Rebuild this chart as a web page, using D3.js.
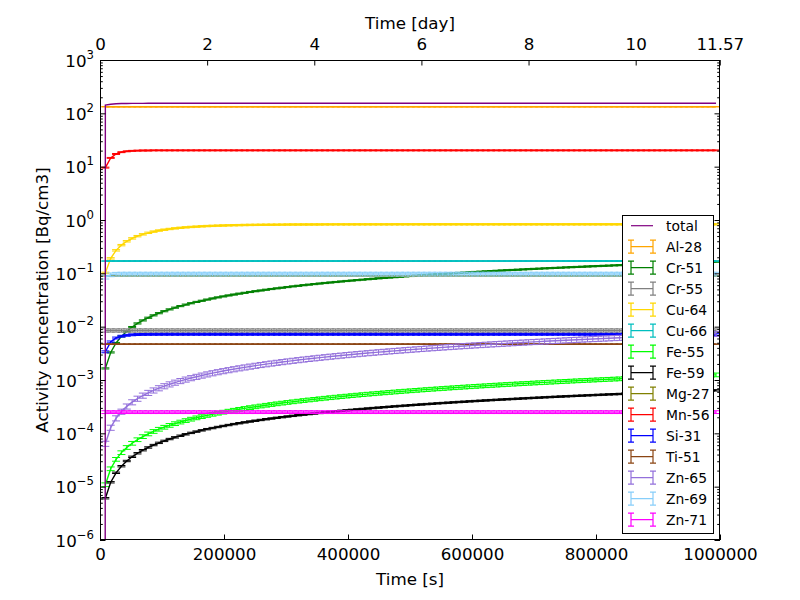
<!DOCTYPE html>
<html lang="en">
<head>
<meta charset="UTF-8">
<title>Activity concentration</title>
<script src="https://cdn.jsdelivr.net/npm/d3@7"></script>
<style>
  body { margin: 0; background: #fff; }
  svg { font-family: "DejaVu Sans", sans-serif; }
</style>
</head>
<body>
<svg width="800" height="600"></svg>
<script>
    // ---- data ----
    const nuclides = ["Al-28", "Cr-51", "Cr-55", "Cu-64", "Cu-66", "Fe-55", "Fe-59",
        "Mg-27", "Mn-56", "Si-31", "Ti-51", "Zn-65", "Zn-69", "Zn-71"];
    const colors = ["#ffa500", "#008000", "#808080", "#ffd700", "#00bfbf", "#00ff00", "#000000",
        "#808000", "#ff0000", "#0000ff", "#8b4513", "#9370db", "#87cefa", "#ff00ff"];
    // relative uncertainty of each nuclide (error bar half height / value)
    const relErr = [0.01, 0.025, 0.07, 0.03, 0.01, 0.08, 0.03, 0.01, 0.02, 0.04, 0.01, 0.11, 0.08, 0.06];

    // sample times [day], one every 0.1 day
    const timeDay = [
        0.1, 0.2, 0.3, 0.4, 0.5, 0.6, 0.7, 0.8, 0.9, 1.0,
        1.1, 1.2, 1.3, 1.4, 1.5, 1.6, 1.7, 1.8, 1.9, 2.0,
        2.1, 2.2, 2.3, 2.4, 2.5, 2.6, 2.7, 2.8, 2.9, 3.0,
        3.1, 3.2, 3.3, 3.4, 3.5, 3.6, 3.7, 3.8, 3.9, 4.0,
        4.1, 4.2, 4.3, 4.4, 4.5, 4.6, 4.7, 4.8, 4.9, 5.0,
        5.1, 5.2, 5.3, 5.4, 5.5, 5.6, 5.7, 5.8, 5.9, 6.0,
        6.1, 6.2, 6.3, 6.4, 6.5, 6.6, 6.7, 6.8, 6.9, 7.0,
        7.1, 7.2, 7.3, 7.4, 7.5, 7.6, 7.7, 7.8, 7.9, 8.0,
        8.1, 8.2, 8.3, 8.4, 8.5, 8.6, 8.7, 8.8, 8.9, 9.0,
        9.1, 9.2, 9.3, 9.4, 9.5, 9.6, 9.7, 9.8, 9.9, 10.0,
        10.1, 10.2, 10.3, 10.4, 10.5, 10.6, 10.7, 10.8, 10.9, 11.0,
        11.1, 11.2, 11.3, 11.4, 11.5];

    const al28 = [
        133, 133, 133, 133, 133, 133, 133, 133, 133, 133,
        133, 133, 133, 133, 133, 133, 133, 133, 133, 133,
        133, 133, 133, 133, 133, 133, 133, 133, 133, 133,
        133, 133, 133, 133, 133, 133, 133, 133, 133, 133,
        133, 133, 133, 133, 133, 133, 133, 133, 133, 133,
        133, 133, 133, 133, 133, 133, 133, 133, 133, 133,
        133, 133, 133, 133, 133, 133, 133, 133, 133, 133,
        133, 133, 133, 133, 133, 133, 133, 133, 133, 133,
        133, 133, 133, 133, 133, 133, 133, 133, 133, 133,
        133, 133, 133, 133, 133, 133, 133, 133, 133, 133,
        133, 133, 133, 133, 133, 133, 133, 133, 133, 133,
        133, 133, 133, 133, 133];
    const cr51 = [
        0.00165, 0.00329, 0.00494, 0.00657, 0.0082, 0.00983, 0.0115, 0.0131, 0.0147, 0.0163,
        0.0179, 0.0195, 0.0211, 0.0227, 0.0243, 0.0259, 0.0275, 0.0291, 0.0306, 0.0322,
        0.0338, 0.0354, 0.0369, 0.0385, 0.0400, 0.0416, 0.0431, 0.0447, 0.0462, 0.0477,
        0.0493, 0.0508, 0.0523, 0.0538, 0.0553, 0.0569, 0.0584, 0.0599, 0.0614, 0.0629,
        0.0644, 0.0659, 0.0673, 0.0688, 0.0703, 0.0718, 0.0732, 0.0747, 0.0761, 0.0776,
        0.0791, 0.0806, 0.0820, 0.0834, 0.0848, 0.0863, 0.0877, 0.0892, 0.0906, 0.0920,
        0.0934, 0.0948, 0.0962, 0.0976, 0.0990, 0.1004, 0.1018, 0.1032, 0.1046, 0.1060,
        0.1074, 0.1088, 0.1102, 0.1116, 0.1129, 0.1143, 0.1156, 0.1170, 0.1184, 0.1198,
        0.1211, 0.1225, 0.1238, 0.1251, 0.1264, 0.1278, 0.1291, 0.1304, 0.1317, 0.1331,
        0.1344, 0.1357, 0.1370, 0.1383, 0.1396, 0.1409, 0.1422, 0.1435, 0.1448, 0.1461,
        0.1474, 0.1487, 0.1499, 0.1512, 0.1525, 0.1538, 0.1550, 0.1563, 0.1575, 0.1588,
        0.1600, 0.1613, 0.1625, 0.1638, 0.1650];
    const cr55 = [
        0.0085, 0.0085, 0.0085, 0.0085, 0.0085, 0.0085, 0.0085, 0.0085, 0.0085, 0.0085,
        0.0085, 0.0085, 0.0085, 0.0085, 0.0085, 0.0085, 0.0085, 0.0085, 0.0085, 0.0085,
        0.0085, 0.0085, 0.0085, 0.0085, 0.0085, 0.0085, 0.0085, 0.0085, 0.0085, 0.0085,
        0.0085, 0.0085, 0.0085, 0.0085, 0.0085, 0.0085, 0.0085, 0.0085, 0.0085, 0.0085,
        0.0085, 0.0085, 0.0085, 0.0085, 0.0085, 0.0085, 0.0085, 0.0085, 0.0085, 0.0085,
        0.0085, 0.0085, 0.0085, 0.0085, 0.0085, 0.0085, 0.0085, 0.0085, 0.0085, 0.0085,
        0.0085, 0.0085, 0.0085, 0.0085, 0.0085, 0.0085, 0.0085, 0.0085, 0.0085, 0.0085,
        0.0085, 0.0085, 0.0085, 0.0085, 0.0085, 0.0085, 0.0085, 0.0085, 0.0085, 0.0085,
        0.0085, 0.0085, 0.0085, 0.0085, 0.0085, 0.0085, 0.0085, 0.0085, 0.0085, 0.0085,
        0.0085, 0.0085, 0.0085, 0.0085, 0.0085, 0.0085, 0.0085, 0.0085, 0.0085, 0.0085,
        0.0085, 0.0085, 0.0085, 0.0085, 0.0085, 0.0085, 0.0085, 0.0085, 0.0085, 0.0085,
        0.0085, 0.0085, 0.0085, 0.0085, 0.0085];
    const cu64 = [
        0.102, 0.191, 0.270, 0.338, 0.399, 0.452, 0.498, 0.539, 0.575, 0.606,
        0.634, 0.658, 0.679, 0.697, 0.714, 0.728, 0.741, 0.751, 0.761, 0.770,
        0.777, 0.784, 0.789, 0.794, 0.799, 0.802, 0.806, 0.809, 0.811, 0.814,
        0.816, 0.817, 0.819, 0.820, 0.822, 0.823, 0.824, 0.825, 0.825, 0.826,
        0.826, 0.827, 0.827, 0.828, 0.828, 0.828, 0.828, 0.829, 0.829, 0.829,
        0.829, 0.829, 0.829, 0.829, 0.830, 0.830, 0.830, 0.830, 0.830, 0.830,
        0.830, 0.830, 0.830, 0.830, 0.830, 0.830, 0.830, 0.830, 0.830, 0.830,
        0.830, 0.830, 0.830, 0.830, 0.830, 0.830, 0.830, 0.830, 0.830, 0.830,
        0.830, 0.830, 0.830, 0.830, 0.830, 0.830, 0.830, 0.830, 0.830, 0.830,
        0.830, 0.830, 0.830, 0.830, 0.830, 0.830, 0.830, 0.830, 0.830, 0.830,
        0.830, 0.830, 0.830, 0.830, 0.830, 0.830, 0.830, 0.830, 0.830, 0.830,
        0.830, 0.830, 0.830, 0.830, 0.830];
    const cu66 = [
        0.17, 0.17, 0.17, 0.17, 0.17, 0.17, 0.17, 0.17, 0.17, 0.17,
        0.17, 0.17, 0.17, 0.17, 0.17, 0.17, 0.17, 0.17, 0.17, 0.17,
        0.17, 0.17, 0.17, 0.17, 0.17, 0.17, 0.17, 0.17, 0.17, 0.17,
        0.17, 0.17, 0.17, 0.17, 0.17, 0.17, 0.17, 0.17, 0.17, 0.17,
        0.17, 0.17, 0.17, 0.17, 0.17, 0.17, 0.17, 0.17, 0.17, 0.17,
        0.17, 0.17, 0.17, 0.17, 0.17, 0.17, 0.17, 0.17, 0.17, 0.17,
        0.17, 0.17, 0.17, 0.17, 0.17, 0.17, 0.17, 0.17, 0.17, 0.17,
        0.17, 0.17, 0.17, 0.17, 0.17, 0.17, 0.17, 0.17, 0.17, 0.17,
        0.17, 0.17, 0.17, 0.17, 0.17, 0.17, 0.17, 0.17, 0.17, 0.17,
        0.17, 0.17, 0.17, 0.17, 0.17, 0.17, 0.17, 0.17, 0.17, 0.17,
        0.17, 0.17, 0.17, 0.17, 0.17, 0.17, 0.17, 0.17, 0.17, 0.17,
        0.17, 0.17, 0.17, 0.17, 0.17];
    const fe55 = [
        1.09e-5, 2.17e-5, 3.26e-5, 4.35e-5, 5.44e-5, 6.52e-5, 7.61e-5, 8.70e-5, 9.78e-5, 1.087e-4,
        1.196e-4, 1.304e-4, 1.413e-4, 1.522e-4, 1.631e-4, 1.739e-4, 1.848e-4, 1.957e-4, 2.065e-4, 2.174e-4,
        2.283e-4, 2.391e-4, 2.500e-4, 2.609e-4, 2.718e-4, 2.826e-4, 2.935e-4, 3.044e-4, 3.152e-4, 3.261e-4,
        3.370e-4, 3.478e-4, 3.587e-4, 3.696e-4, 3.805e-4, 3.913e-4, 4.022e-4, 4.131e-4, 4.239e-4, 4.348e-4,
        4.457e-4, 4.565e-4, 4.674e-4, 4.783e-4, 4.892e-4, 5.000e-4, 5.109e-4, 5.218e-4, 5.326e-4, 5.435e-4,
        5.544e-4, 5.652e-4, 5.761e-4, 5.870e-4, 5.979e-4, 6.087e-4, 6.196e-4, 6.305e-4, 6.413e-4, 6.522e-4,
        6.631e-4, 6.739e-4, 6.848e-4, 6.957e-4, 7.066e-4, 7.174e-4, 7.283e-4, 7.392e-4, 7.500e-4, 7.609e-4,
        7.718e-4, 7.826e-4, 7.935e-4, 8.044e-4, 8.153e-4, 8.261e-4, 8.370e-4, 8.479e-4, 8.587e-4, 8.696e-4,
        8.805e-4, 8.913e-4, 9.022e-4, 9.131e-4, 9.240e-4, 9.348e-4, 9.457e-4, 9.566e-4, 9.674e-4, 9.783e-4,
        9.892e-4, 1.000e-3, 1.011e-3, 1.022e-3, 1.033e-3, 1.044e-3, 1.054e-3, 1.065e-3, 1.076e-3, 1.087e-3,
        1.098e-3, 1.109e-3, 1.120e-3, 1.131e-3, 1.141e-3, 1.152e-3, 1.163e-3, 1.174e-3, 1.185e-3, 1.196e-3,
        1.207e-3, 1.217e-3, 1.228e-3, 1.239e-3, 1.250e-3];
    const fe59 = [
        6.07e-6, 1.21e-5, 1.82e-5, 2.42e-5, 3.03e-5, 3.63e-5, 4.23e-5, 4.83e-5, 5.43e-5, 6.03e-5,
        6.63e-5, 7.22e-5, 7.82e-5, 8.41e-5, 9.01e-5, 9.60e-5, 1.019e-4, 1.078e-4, 1.138e-4, 1.197e-4,
        1.255e-4, 1.314e-4, 1.373e-4, 1.431e-4, 1.490e-4, 1.548e-4, 1.607e-4, 1.665e-4, 1.723e-4, 1.781e-4,
        1.839e-4, 1.897e-4, 1.954e-4, 2.012e-4, 2.070e-4, 2.127e-4, 2.185e-4, 2.242e-4, 2.299e-4, 2.356e-4,
        2.413e-4, 2.470e-4, 2.527e-4, 2.584e-4, 2.641e-4, 2.698e-4, 2.754e-4, 2.811e-4, 2.867e-4, 2.923e-4,
        2.979e-4, 3.035e-4, 3.091e-4, 3.147e-4, 3.203e-4, 3.259e-4, 3.314e-4, 3.370e-4, 3.425e-4, 3.481e-4,
        3.536e-4, 3.591e-4, 3.646e-4, 3.701e-4, 3.756e-4, 3.811e-4, 3.866e-4, 3.921e-4, 3.975e-4, 4.030e-4,
        4.084e-4, 4.139e-4, 4.193e-4, 4.247e-4, 4.301e-4, 4.355e-4, 4.409e-4, 4.463e-4, 4.517e-4, 4.571e-4,
        4.624e-4, 4.678e-4, 4.731e-4, 4.785e-4, 4.838e-4, 4.891e-4, 4.944e-4, 4.997e-4, 5.050e-4, 5.103e-4,
        5.155e-4, 5.208e-4, 5.260e-4, 5.313e-4, 5.366e-4, 5.418e-4, 5.470e-4, 5.522e-4, 5.574e-4, 5.626e-4,
        5.678e-4, 5.730e-4, 5.782e-4, 5.834e-4, 5.885e-4, 5.937e-4, 5.988e-4, 6.040e-4, 6.091e-4, 6.143e-4,
        6.194e-4, 6.245e-4, 6.295e-4, 6.346e-4, 6.397e-4];
    const mg27 = [
        0.09, 0.09, 0.09, 0.09, 0.09, 0.09, 0.09, 0.09, 0.09, 0.09,
        0.09, 0.09, 0.09, 0.09, 0.09, 0.09, 0.09, 0.09, 0.09, 0.09,
        0.09, 0.09, 0.09, 0.09, 0.09, 0.09, 0.09, 0.09, 0.09, 0.09,
        0.09, 0.09, 0.09, 0.09, 0.09, 0.09, 0.09, 0.09, 0.09, 0.09,
        0.09, 0.09, 0.09, 0.09, 0.09, 0.09, 0.09, 0.09, 0.09, 0.09,
        0.09, 0.09, 0.09, 0.09, 0.09, 0.09, 0.09, 0.09, 0.09, 0.09,
        0.09, 0.09, 0.09, 0.09, 0.09, 0.09, 0.09, 0.09, 0.09, 0.09,
        0.09, 0.09, 0.09, 0.09, 0.09, 0.09, 0.09, 0.09, 0.09, 0.09,
        0.09, 0.09, 0.09, 0.09, 0.09, 0.09, 0.09, 0.09, 0.09, 0.09,
        0.09, 0.09, 0.09, 0.09, 0.09, 0.09, 0.09, 0.09, 0.09, 0.09,
        0.09, 0.09, 0.09, 0.09, 0.09, 0.09, 0.09, 0.09, 0.09, 0.09,
        0.09, 0.09, 0.09, 0.09, 0.09];
    const mn56 = [
        9.60, 14.6, 17.3, 18.7, 19.4, 19.8, 20.0, 20.1, 20.1, 20.2,
        20.2, 20.2, 20.2, 20.2, 20.2, 20.2, 20.2, 20.2, 20.2, 20.2,
        20.2, 20.2, 20.2, 20.2, 20.2, 20.2, 20.2, 20.2, 20.2, 20.2,
        20.2, 20.2, 20.2, 20.2, 20.2, 20.2, 20.2, 20.2, 20.2, 20.2,
        20.2, 20.2, 20.2, 20.2, 20.2, 20.2, 20.2, 20.2, 20.2, 20.2,
        20.2, 20.2, 20.2, 20.2, 20.2, 20.2, 20.2, 20.2, 20.2, 20.2,
        20.2, 20.2, 20.2, 20.2, 20.2, 20.2, 20.2, 20.2, 20.2, 20.2,
        20.2, 20.2, 20.2, 20.2, 20.2, 20.2, 20.2, 20.2, 20.2, 20.2,
        20.2, 20.2, 20.2, 20.2, 20.2, 20.2, 20.2, 20.2, 20.2, 20.2,
        20.2, 20.2, 20.2, 20.2, 20.2, 20.2, 20.2, 20.2, 20.2, 20.2,
        20.2, 20.2, 20.2, 20.2, 20.2, 20.2, 20.2, 20.2, 20.2, 20.2,
        20.2, 20.2, 20.2, 20.2, 20.2];
    const si31 = [
        0.00338, 0.00518, 0.00613, 0.00663, 0.0069, 0.00704, 0.00712, 0.00716, 0.00718, 0.00719,
        0.00719, 0.0072, 0.0072, 0.0072, 0.0072, 0.0072, 0.0072, 0.0072, 0.0072, 0.0072,
        0.0072, 0.0072, 0.0072, 0.0072, 0.0072, 0.0072, 0.0072, 0.0072, 0.0072, 0.0072,
        0.0072, 0.0072, 0.0072, 0.0072, 0.0072, 0.0072, 0.0072, 0.0072, 0.0072, 0.0072,
        0.0072, 0.0072, 0.0072, 0.0072, 0.0072, 0.0072, 0.0072, 0.0072, 0.0072, 0.0072,
        0.0072, 0.0072, 0.0072, 0.0072, 0.0072, 0.0072, 0.0072, 0.0072, 0.0072, 0.0072,
        0.0072, 0.0072, 0.0072, 0.0072, 0.0072, 0.0072, 0.0072, 0.0072, 0.0072, 0.0072,
        0.0072, 0.0072, 0.0072, 0.0072, 0.0072, 0.0072, 0.0072, 0.0072, 0.0072, 0.0072,
        0.0072, 0.0072, 0.0072, 0.0072, 0.0072, 0.0072, 0.0072, 0.0072, 0.0072, 0.0072,
        0.0072, 0.0072, 0.0072, 0.0072, 0.0072, 0.0072, 0.0072, 0.0072, 0.0072, 0.0072,
        0.0072, 0.0072, 0.0072, 0.0072, 0.0072, 0.0072, 0.0072, 0.0072, 0.0072, 0.0072,
        0.0072, 0.0072, 0.0072, 0.0072, 0.0072];
    const ti51 = [
        0.0047, 0.0047, 0.0047, 0.0047, 0.0047, 0.0047, 0.0047, 0.0047, 0.0047, 0.0047,
        0.0047, 0.0047, 0.0047, 0.0047, 0.0047, 0.0047, 0.0047, 0.0047, 0.0047, 0.0047,
        0.0047, 0.0047, 0.0047, 0.0047, 0.0047, 0.0047, 0.0047, 0.0047, 0.0047, 0.0047,
        0.0047, 0.0047, 0.0047, 0.0047, 0.0047, 0.0047, 0.0047, 0.0047, 0.0047, 0.0047,
        0.0047, 0.0047, 0.0047, 0.0047, 0.0047, 0.0047, 0.0047, 0.0047, 0.0047, 0.0047,
        0.0047, 0.0047, 0.0047, 0.0047, 0.0047, 0.0047, 0.0047, 0.0047, 0.0047, 0.0047,
        0.0047, 0.0047, 0.0047, 0.0047, 0.0047, 0.0047, 0.0047, 0.0047, 0.0047, 0.0047,
        0.0047, 0.0047, 0.0047, 0.0047, 0.0047, 0.0047, 0.0047, 0.0047, 0.0047, 0.0047,
        0.0047, 0.0047, 0.0047, 0.0047, 0.0047, 0.0047, 0.0047, 0.0047, 0.0047, 0.0047,
        0.0047, 0.0047, 0.0047, 0.0047, 0.0047, 0.0047, 0.0047, 0.0047, 0.0047, 0.0047,
        0.0047, 0.0047, 0.0047, 0.0047, 0.0047, 0.0047, 0.0047, 0.0047, 0.0047, 0.0047,
        0.0047, 0.0047, 0.0047, 0.0047, 0.0047];
    const zn65 = [
        6.4e-5, 1.28e-4, 1.92e-4, 2.56e-4, 3.20e-4, 3.84e-4, 4.48e-4, 5.12e-4, 5.76e-4, 6.40e-4,
        7.04e-4, 7.68e-4, 8.32e-4, 8.96e-4, 9.60e-4, 1.024e-3, 1.088e-3, 1.152e-3, 1.216e-3, 1.280e-3,
        1.344e-3, 1.408e-3, 1.472e-3, 1.536e-3, 1.600e-3, 1.664e-3, 1.728e-3, 1.792e-3, 1.856e-3, 1.920e-3,
        1.984e-3, 2.048e-3, 2.112e-3, 2.176e-3, 2.240e-3, 2.304e-3, 2.368e-3, 2.432e-3, 2.496e-3, 2.560e-3,
        2.624e-3, 2.688e-3, 2.752e-3, 2.816e-3, 2.880e-3, 2.944e-3, 3.008e-3, 3.072e-3, 3.136e-3, 3.200e-3,
        3.264e-3, 3.328e-3, 3.392e-3, 3.456e-3, 3.520e-3, 3.584e-3, 3.648e-3, 3.712e-3, 3.776e-3, 3.840e-3,
        3.904e-3, 3.968e-3, 4.032e-3, 4.096e-3, 4.160e-3, 4.224e-3, 4.288e-3, 4.352e-3, 4.416e-3, 4.480e-3,
        4.544e-3, 4.608e-3, 4.672e-3, 4.736e-3, 4.800e-3, 4.864e-3, 4.928e-3, 4.992e-3, 5.056e-3, 5.120e-3,
        5.184e-3, 5.248e-3, 5.312e-3, 5.376e-3, 5.440e-3, 5.504e-3, 5.568e-3, 5.632e-3, 5.696e-3, 5.760e-3,
        5.824e-3, 5.888e-3, 5.952e-3, 6.016e-3, 6.080e-3, 6.144e-3, 6.208e-3, 6.272e-3, 6.336e-3, 6.400e-3,
        6.464e-3, 6.528e-3, 6.592e-3, 6.656e-3, 6.720e-3, 6.784e-3, 6.848e-3, 6.912e-3, 6.976e-3, 7.040e-3,
        7.104e-3, 7.168e-3, 7.232e-3, 7.296e-3, 7.360e-3];
    const zn69 = [
        0.085, 0.094, 0.0965, 0.097, 0.097, 0.097, 0.097, 0.097, 0.097, 0.097,
        0.097, 0.097, 0.097, 0.097, 0.097, 0.097, 0.097, 0.097, 0.097, 0.097,
        0.097, 0.097, 0.097, 0.097, 0.097, 0.097, 0.097, 0.097, 0.097, 0.097,
        0.097, 0.097, 0.097, 0.097, 0.097, 0.097, 0.097, 0.097, 0.097, 0.097,
        0.097, 0.097, 0.097, 0.097, 0.097, 0.097, 0.097, 0.097, 0.097, 0.097,
        0.097, 0.097, 0.097, 0.097, 0.097, 0.097, 0.097, 0.097, 0.097, 0.097,
        0.097, 0.097, 0.097, 0.097, 0.097, 0.097, 0.097, 0.097, 0.097, 0.097,
        0.097, 0.097, 0.097, 0.097, 0.097, 0.097, 0.097, 0.097, 0.097, 0.097,
        0.097, 0.097, 0.097, 0.097, 0.097, 0.097, 0.097, 0.097, 0.097, 0.097,
        0.097, 0.097, 0.097, 0.097, 0.097, 0.097, 0.097, 0.097, 0.097, 0.097,
        0.097, 0.097, 0.097, 0.097, 0.097, 0.097, 0.097, 0.097, 0.097, 0.097,
        0.097, 0.097, 0.097, 0.097, 0.097];
    const zn71 = [
        2.5e-4, 2.5e-4, 2.5e-4, 2.5e-4, 2.5e-4, 2.5e-4, 2.5e-4, 2.5e-4, 2.5e-4, 2.5e-4,
        2.5e-4, 2.5e-4, 2.5e-4, 2.5e-4, 2.5e-4, 2.5e-4, 2.5e-4, 2.5e-4, 2.5e-4, 2.5e-4,
        2.5e-4, 2.5e-4, 2.5e-4, 2.5e-4, 2.5e-4, 2.5e-4, 2.5e-4, 2.5e-4, 2.5e-4, 2.5e-4,
        2.5e-4, 2.5e-4, 2.5e-4, 2.5e-4, 2.5e-4, 2.5e-4, 2.5e-4, 2.5e-4, 2.5e-4, 2.5e-4,
        2.5e-4, 2.5e-4, 2.5e-4, 2.5e-4, 2.5e-4, 2.5e-4, 2.5e-4, 2.5e-4, 2.5e-4, 2.5e-4,
        2.5e-4, 2.5e-4, 2.5e-4, 2.5e-4, 2.5e-4, 2.5e-4, 2.5e-4, 2.5e-4, 2.5e-4, 2.5e-4,
        2.5e-4, 2.5e-4, 2.5e-4, 2.5e-4, 2.5e-4, 2.5e-4, 2.5e-4, 2.5e-4, 2.5e-4, 2.5e-4,
        2.5e-4, 2.5e-4, 2.5e-4, 2.5e-4, 2.5e-4, 2.5e-4, 2.5e-4, 2.5e-4, 2.5e-4, 2.5e-4,
        2.5e-4, 2.5e-4, 2.5e-4, 2.5e-4, 2.5e-4, 2.5e-4, 2.5e-4, 2.5e-4, 2.5e-4, 2.5e-4,
        2.5e-4, 2.5e-4, 2.5e-4, 2.5e-4, 2.5e-4, 2.5e-4, 2.5e-4, 2.5e-4, 2.5e-4, 2.5e-4,
        2.5e-4, 2.5e-4, 2.5e-4, 2.5e-4, 2.5e-4, 2.5e-4, 2.5e-4, 2.5e-4, 2.5e-4, 2.5e-4,
        2.5e-4, 2.5e-4, 2.5e-4, 2.5e-4, 2.5e-4];

    // total starts with an empty sample at t = 0
    const totalTimeDay = [0].concat(timeDay);
    const total = [0,
        143.1, 148.2, 151.0, 152.4, 153.2, 153.6, 153.9, 154.0, 154.1, 154.2,
        154.2, 154.3, 154.3, 154.3, 154.3, 154.3, 154.3, 154.4, 154.4, 154.4,
        154.4, 154.4, 154.4, 154.4, 154.4, 154.4, 154.4, 154.4, 154.4, 154.4,
        154.4, 154.4, 154.4, 154.4, 154.4, 154.5, 154.5, 154.5, 154.5, 154.5,
        154.5, 154.5, 154.5, 154.5, 154.5, 154.5, 154.5, 154.5, 154.5, 154.5,
        154.5, 154.5, 154.5, 154.5, 154.5, 154.5, 154.5, 154.5, 154.5, 154.5,
        154.5, 154.5, 154.5, 154.5, 154.5, 154.5, 154.5, 154.5, 154.5, 154.5,
        154.6, 154.6, 154.6, 154.6, 154.6, 154.6, 154.6, 154.6, 154.6, 154.6,
        154.6, 154.6, 154.6, 154.6, 154.6, 154.6, 154.6, 154.6, 154.6, 154.6,
        154.6, 154.6, 154.6, 154.6, 154.6, 154.6, 154.6, 154.6, 154.6, 154.6,
        154.6, 154.6, 154.6, 154.6, 154.6, 154.6, 154.6, 154.6, 154.6, 154.6,
        154.6, 154.6, 154.6, 154.6, 154.6];

    const series = [al28, cr51, cr55, cu64, cu66, fe55, fe59, mg27, mn56, si31, ti51, zn65, zn69, zn71];

    const secTicks = [0, 200000, 400000, 600000, 800000, 1000000];
    const dayTicks = [0, 2, 4, 6, 8, 10, 11.57];
    const decades = [-6, -5, -4, -3, -2, -1, 0, 1, 2, 3];

    // ---- layout ----
    const pL = 100, pR = 720, pT = 60, pB = 540;
    const fontTick = 16.7, fontLegend = 13.9;

    const x = d3.scaleLinear().domain([0, 1e6]).range([pL, pR]);
    const xDay = d3.scaleLinear().domain([0, 1e6 / 86400]).range([pL, pR]);
    const y = d3.scaleLog().domain([1e-6, 1e3]).range([pB, pT]);

    const svg = d3.select("svg");
    svg.append("rect").attr("width", 800).attr("height", 600).attr("fill", "#fff");

    svg.append("defs").append("clipPath").attr("id", "clip")
        .append("rect").attr("x", pL).attr("y", pT)
        .attr("width", pR - pL).attr("height", pB - pT);

    const plot = svg.append("g").attr("clip-path", "url(#clip)");

    // log axis clips non-positive values, like matplotlib does
    const line = d3.line()
        .x(d => x(d[0]))
        .y(d => y(Math.max(d[1], 1e-300)));

    nuclides.forEach((name, i) => {
        const pts = timeDay.map((d, j) => [d * 86400, series[i][j]]);
        const e = relErr[i];
        const g = plot.append("g").attr("stroke", colors[i]).attr("fill", "none");
        g.append("path").attr("d", line(pts)).attr("stroke-width", 1.4);
        g.selectAll("path.bar")
            .data(pts)
            .join("path")
            .attr("class", "bar")
            .attr("stroke-width", 1)
            .attr("d", d => {
                const px = x(d[0]), y0 = y(d[1] * (1 - e)), y1 = y(d[1] * (1 + e));
                return `M${px},${y0}V${y1}M${px - 4},${y0}h8M${px - 4},${y1}h8`;
            });
    });

    plot.append("path")
        .attr("d", line(totalTimeDay.map((d, j) => [d * 86400, total[j]])))
        .attr("fill", "none")
        .attr("stroke", "#800080")
        .attr("stroke-width", 1.4);

    // ---- axes ----
    function styleAxis(g) {
        g.select(".domain").remove();
        g.selectAll(".tick line").attr("stroke", "#000");
        g.selectAll("text").attr("font-size", fontTick).attr("font-family", "DejaVu Sans").attr("fill", "#000");
    }

    svg.append("g")
        .attr("transform", `translate(0,${pB})`)
        .call(d3.axisBottom(x).tickValues(secTicks).tickSizeInner(-5.5).tickSizeOuter(0)
            .tickPadding(8).tickFormat(d => String(d)))
        .call(styleAxis);

    svg.append("g")
        .attr("transform", `translate(0,${pT})`)
        .call(d3.axisTop(xDay).tickValues(dayTicks).tickSizeInner(-5.5).tickSizeOuter(0)
            .tickPadding(10).tickFormat(d => String(d)))
        .call(styleAxis);

    const majors = decades.map(k => Math.pow(10, k));
    const minors = y.ticks().filter(v => Math.abs(Math.log10(v) - Math.round(Math.log10(v))) > 1e-6);

    const leftAxis = svg.append("g")
        .attr("transform", `translate(${pL},0)`)
        .call(d3.axisLeft(y).tickValues(majors).tickSizeInner(-5.5).tickSizeOuter(0).tickFormat(""))
        .call(styleAxis);
    svg.append("g")
        .attr("transform", `translate(${pL},0)`)
        .call(d3.axisLeft(y).tickValues(minors).tickSizeInner(-2.8).tickSizeOuter(0).tickFormat(""))
        .call(styleAxis);
    svg.append("g")
        .attr("transform", `translate(${pR},0)`)
        .call(d3.axisRight(y).tickValues(majors).tickSizeInner(-5.5).tickSizeOuter(0).tickFormat(""))
        .call(styleAxis);
    svg.append("g")
        .attr("transform", `translate(${pR},0)`)
        .call(d3.axisRight(y).tickValues(minors).tickSizeInner(-2.8).tickSizeOuter(0).tickFormat(""))
        .call(styleAxis);

    // 10^k labels
    leftAxis.selectAll(".tick").each(function (d, i) {
        const t = d3.select(this).append("text")
            .attr("x", -6)
            .attr("y", 6)
            .attr("text-anchor", "end")
            .attr("fill", "#000")
            .attr("font-size", fontTick)
            .attr("font-family", "DejaVu Sans");
        t.append("tspan").text("10");
        t.append("tspan").attr("dy", -8).attr("font-size", 11.7)
            .text(String(decades[i]).replace("-", "\u2212"));
    });

    // frame
    svg.append("rect")
        .attr("x", pL + 0.5).attr("y", pT + 0.5)
        .attr("width", pR - pL - 1).attr("height", pB - pT - 1)
        .attr("fill", "none").attr("stroke", "#000").attr("stroke-width", 1);

    // axis titles
    svg.append("text")
        .attr("x", (pL + pR) / 2).attr("y", 585)
        .attr("text-anchor", "middle").attr("font-size", fontTick)
        .text("Time [s]");
    svg.append("text")
        .attr("x", (pL + pR) / 2).attr("y", 29)
        .attr("text-anchor", "middle").attr("font-size", fontTick)
        .text("Time [day]");
    svg.append("text")
        .attr("transform", `translate(48,${(pT + pB) / 2}) rotate(-90)`)
        .attr("text-anchor", "middle").attr("font-size", fontTick)
        .text("Activity concentration [Bq/cm3]");

    // ---- legend ----
    const legendNames = ["total"].concat(nuclides);
    const legendColors = ["#800080"].concat(colors);
    const legend = svg.append("g").attr("transform", "translate(622,215)");
    legend.append("rect")
        .attr("x", 0.5).attr("y", 0.5).attr("width", 91).attr("height", 318)
        .attr("fill", "#fff").attr("stroke", "#000").attr("stroke-width", 1);

    const item = legend.selectAll("g.item")
        .data(legendNames)
        .join("g")
        .attr("class", "item")
        .attr("transform", (d, i) => `translate(0,${10.7 + i * 21})`);

    item.append("path")
        .attr("fill", "none")
        .attr("stroke", (d, i) => legendColors[i])
        .attr("stroke-width", 1.2)
        .attr("d", (d, i) => i === 0
            ? "M9,0H31"
            : "M9,0H31M9,-6.5V6.5M31,-6.5V6.5M6,-6.5h6M6,6.5h6M28,-6.5h6M28,6.5h6");

    item.append("text")
        .attr("x", 44)
        .attr("y", 5)
        .attr("font-size", fontLegend)
        .text(d => d);
</script>
</body>
</html>
